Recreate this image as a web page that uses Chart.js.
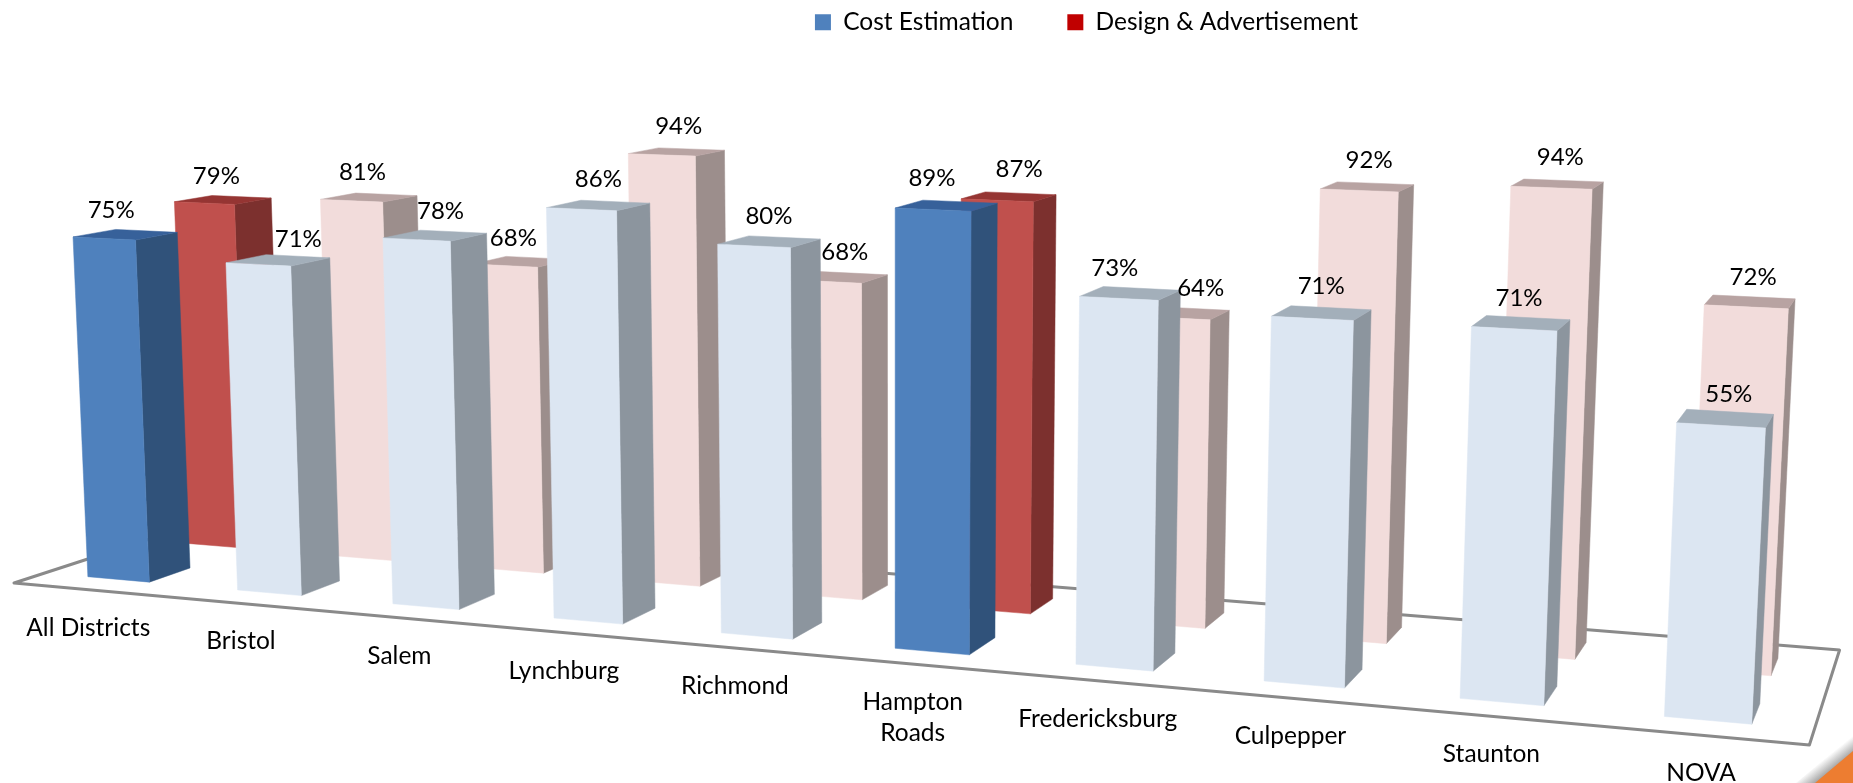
<!DOCTYPE html>
<html>
<head>
<meta charset="utf-8">
<title>Cost Estimation and Design & Advertisement by district</title>
<script src="https://cdn.jsdelivr.net/npm/chart.js@4/dist/chart.umd.js"></script>
<style>
  html, body { margin: 0; padding: 0; background: #fff; overflow: hidden; }
  canvas { display: block; }
</style>
</head>
<body>
<canvas id="districtChart" width="1853" height="783"></canvas>
<script>
const districts = ["All Districts", "Bristol", "Salem", "Lynchburg", "Richmond", ["Hampton", "Roads"], "Fredericksburg", "Culpepper", "Staunton", "NOVA"];
const costEstimation = [75, 71, 78, 86, 80, 89, 73, 71, 71, 55];
const designAdvertisement = [79, 81, 68, 94, 68, 87, 64, 92, 94, 72];
const highlighted = ["All Districts", "Hampton"];

// face colours per series: strong for highlighted districts, pale for the rest
const faces = [
  {
    strong: { front: "#4F81BD", side: "#30527A", top: "#37619A" },
    pale: { front: "#DCE6F2", side: "#8C959E", top: "#A3AFBA" },
    legend: "#4F81BD"
  },
  {
    strong: { front: "#C0504D", side: "#7C302E", top: "#953533" },
    pale: { front: "#F2DCDB", side: "#9C8E8C", top: "#B8A3A2" },
    legend: "#C00000"
  }
];

// Floor camera: maps (u along the axis, d into the depth) to the screen
const cam = { a: 1469.7, b: 219, c: 14, e: 27.9, f: -9.2, k: 583, g: -0.18, h: 0.1056 };
const seriesDepth = [[0.145, 0.35], [0.65, 0.85]];
const fullScaleHeight = 457; // px for 100% at the near left corner
const heightFalloff = { u: -0.17, d: 0.095 };
const verticalVanish = { x: 895, dist: 18500 };

// hand placed offsets of the value labels, as in the slide
const labelShift = [
  [7, 40, 24, 17, 15, -1, -4, 9, 5, 8],
  [12, 11, 8, 17, 18, 22, 28, 10, 9, 7]
];
const labelRise = [
  [28, 25, 28, 30, 30, 31, 30, 32, 31, 31],
  [27, 28, 27, 29, 29, 31, 30, 30, 30, 30]
];

function floorPoint(u, d) {
  const w = 1 + cam.g * u + cam.h * d;
  return {
    x: (cam.a * u + cam.b * d + cam.c) / w,
    y: (cam.e * u + cam.f * d + cam.k) / w
  };
}

function raised(u, d, fraction) {
  const p = floorPoint(u, d);
  const h = fraction * fullScaleHeight / (1 + heightFalloff.u * u + heightFalloff.d * d);
  return { x: p.x + (p.x - verticalVanish.x) / verticalVanish.dist * h, y: p.y - h };
}

function fillQuad(ctx, pts, color) {
  ctx.beginPath();
  pts.forEach((p, i) => (i ? ctx.lineTo(p.x, p.y) : ctx.moveTo(p.x, p.y)));
  ctx.closePath();
  ctx.fillStyle = color;
  ctx.fill();
  ctx.strokeStyle = color;
  ctx.lineWidth = 0.5;
  ctx.stroke();
}

const perspectiveBars = {
  id: "perspectiveBars",
  afterLayout(chart) {
    // legend sits right of centre at the very top of the slide
    chart.legend.left += 160;
    chart.legend.right += 160;
    chart.legend.top = -44;
  },
  beforeDatasetsDraw(chart) {
    const ctx = chart.ctx;
    const area = chart.chartArea;
    const toU = (x) => (x - area.left) / area.width;

    // floor outline
    ctx.save();
    ctx.beginPath();
    [[0, 0], [1, 0], [1, 1], [0, 1]].forEach(([u, d], i) => {
      const p = floorPoint(u, d);
      i ? ctx.lineTo(p.x, p.y) : ctx.moveTo(p.x, p.y);
    });
    ctx.closePath();
    ctx.strokeStyle = "#8A8A8A";
    ctx.lineWidth = 3;
    ctx.lineJoin = "round";
    ctx.stroke();

    // back row first, then the front row over it
    [1, 0].forEach((si) => {
      const [d0, d1] = seriesDepth[si];
      chart.getDatasetMeta(si).data.forEach((bar, i) => {
        const label = districts[i];
        const name = Array.isArray(label) ? label[0] : label;
        const c = faces[si][highlighted.includes(name) ? "strong" : "pale"];
        const u0 = toU(bar.x - bar.width / 2);
        const u1 = toU(bar.x + bar.width / 2);
        const t = (bar.base - bar.y) / area.height;

        const fl = floorPoint(u0, d0), fr = floorPoint(u1, d0), br = floorPoint(u1, d1);
        const flt = raised(u0, d0, t), frt = raised(u1, d0, t);
        const brt = raised(u1, d1, t), blt = raised(u0, d1, t);

        fillQuad(ctx, [fr, br, brt, frt], c.side);
        fillQuad(ctx, [flt, frt, brt, blt], c.top);
        fillQuad(ctx, [fl, fr, frt, flt], c.front);
      });
    });

    // value labels
    ctx.font = "24px Lato";
    ctx.fillStyle = "#000";
    ctx.textAlign = "center";
    ctx.textBaseline = "middle";
    [1, 0].forEach((si) => {
      const values = chart.data.datasets[si].data;
      chart.getDatasetMeta(si).data.forEach((bar, i) => {
        const t = (bar.base - bar.y) / area.height;
        const p = raised(toU(bar.x), seriesDepth[si][0], t);
        ctx.fillText(values[i] + "%", p.x + labelShift[si][i], p.y - labelRise[si][i]);
      });
    });

    // category labels follow the front edge of the floor
    ctx.font = "24.5px Lato";
    chart.getDatasetMeta(0).data.forEach((bar, i) => {
      const p = floorPoint(toU(bar.x), 0);
      const lines = [].concat(districts[i]);
      lines.forEach((line, n) => ctx.fillText(line, p.x, p.y + 38 + n * 31));
    });
    ctx.restore();
    return false;
  },
  afterDraw(chart) {
    // orange slide corner with its soft shadow
    const ctx = chart.ctx;
    ctx.save();
    const shade = ctx.createLinearGradient(1824, 759, 1832, 769);
    shade.addColorStop(0, "rgba(168,168,168,0)");
    shade.addColorStop(1, "rgba(168,168,168,1)");
    ctx.fillStyle = shade;
    ctx.beginPath();
    ctx.moveTo(1796, 783);
    ctx.lineTo(1853, 735);
    ctx.lineTo(1853, 783);
    ctx.closePath();
    ctx.fill();
    ctx.fillStyle = "#ED7D31";
    ctx.beginPath();
    ctx.moveTo(1815, 783);
    ctx.lineTo(1853, 751);
    ctx.lineTo(1853, 783);
    ctx.closePath();
    ctx.fill();
    ctx.restore();
  }
};

new Chart(document.getElementById("districtChart"), {
  type: "bar",
  data: {
    labels: districts,
    datasets: [
      { label: "Cost Estimation", data: costEstimation, backgroundColor: faces[0].legend },
      { label: "Design & Advertisement", data: designAdvertisement, backgroundColor: faces[1].legend }
    ]
  },
  options: {
    responsive: false,
    animation: false,
    grouped: false,
    barPercentage: 0.415,
    categoryPercentage: 1,
    scales: {
      x: { display: false },
      y: { display: false, min: 0, max: 100 }
    },
    plugins: {
      tooltip: { enabled: false },
      legend: {
        position: "top",
        labels: {
          boxWidth: 16,
          boxHeight: 16,
          padding: 54,
          color: "#000",
          font: { family: "Lato", size: 24.5 }
        }
      }
    }
  },
  plugins: [perspectiveBars]
});
</script>
</body>
</html>
